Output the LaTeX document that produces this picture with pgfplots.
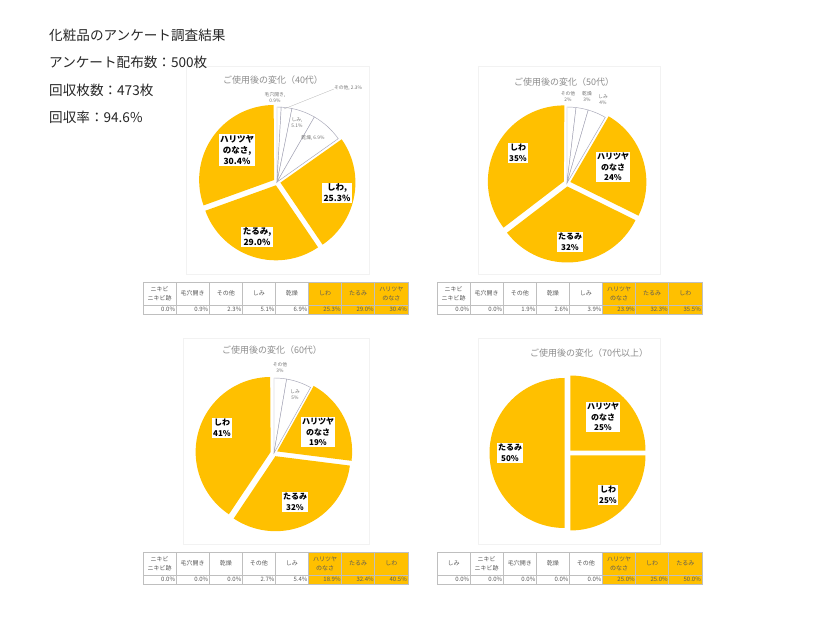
\documentclass[border=0pt]{standalone}
\usepackage{fontspec}
\setmainfont{Noto Sans CJK JP}
\usepackage{pgfplots}
\usepackage{pgfplotstable}
\pgfplotsset{compat=1.18}
\definecolor{pieyellow}{HTML}{FFC000}
\definecolor{pieline}{RGB}{165,165,182}
\definecolor{titlegray}{HTML}{8C8C8C}
\definecolor{tabline}{HTML}{BFBFBF}
\definecolor{tabtext}{HTML}{595959}
\definecolor{headtext}{HTML}{262626}

% pie data (clockwise from 12 o'clock), kind 1 = highlighted
\pgfplotstableread{
val kind
0.0 0
0.9 0
2.3 0
5.1 0
6.9 0
25.3 1
29.0 1
30.4 1
}\pieA
\pgfplotstableread{
val kind
0.0 0
0.0 0
1.9 0
2.6 0
3.9 0
23.9 1
32.3 1
35.5 1
}\pieB
\pgfplotstableread{
val kind
0.0 0
0.0 0
0.0 0
2.7 0
5.4 0
18.9 1
32.4 1
40.5 1
}\pieC
\pgfplotstableread{
val kind
0.0 0
0.0 0
0.0 0
0.0 0
0.0 0
25.0 1
25.0 1
50.0 1
}\pieD

\newcommand\drawpie[2]{%
  \pgfplotstablegetrowsof{#1}%
  \pgfmathtruncatemacro\lastrow{\pgfplotsretval-1}%
  \def\cum{0}%
  \pgfplotsforeachungrouped \rr in {0,...,\lastrow}{%
    \pgfplotstablegetelem{\rr}{val}\of{#1}\let\vv\pgfplotsretval
    \pgfplotstablegetelem{\rr}{kind}\of{#1}\let\kk\pgfplotsretval
    \pgfmathsetmacro\sa{90-3.6*\cum}%
    \pgfmathsetmacro\ea{90-3.6*(\cum+\vv)}%
    \pgfmathsetmacro\ma{(\sa+\ea)/2}%
    \pgfmathsetmacro\cum{\cum+\vv}%
    \ifdim\vv pt>0pt
      \ifnum\kk=1
        \pgfmathsetmacro\dx{3.5*cos(\ma)}\pgfmathsetmacro\dy{3.5*sin(\ma)}%
        \edef\temp{\noexpand\fill[pieyellow] (axis cs:\dx,\dy) -- ++(\sa:#2pt) arc[start angle=\sa, end angle=\ea, radius=#2pt] -- cycle;}%
      \else
        \edef\temp{\noexpand\filldraw[fill=white, draw=pieline, line width=0.45pt] (axis cs:0,0) -- ++(\sa:#2pt) arc[start angle=\sa, end angle=\ea, radius=#2pt] -- cycle;}%
      \fi
      \temp
    \fi
  }%
}

\newcommand\drawtable[3]{%
  \foreach \hh/\tv/\yy [count=\cc from 0] in {#3}{%
    \pgfmathsetmacro\xl{#1+\cc*33.1}%
    \pgfmathsetmacro\yt{628-#2}%
    \ifnum\yy=1 \fill[pieyellow] (\xl,\yt) rectangle ++(33.1,-32.5);\fi
    \draw[tabline, line width=0.5pt] (\xl,\yt) rectangle ++(33.1,-23);
    \draw[tabline, line width=0.5pt] (\xl,{\yt-23}) rectangle ++(33.1,-9.5);
    \node[align=center, text=tabtext, font=\fontsize{6}{9}\selectfont, inner sep=0pt] at ({\xl+16.55},{\yt-11.5}) {\hh};
    \node[anchor=east, text=tabtext, font=\fontsize{6}{7}\selectfont, inner sep=0pt] at ({\xl+32.3},{\yt-27.8}) {\tv};
  }%
}

\begin{document}
\begin{tikzpicture}[x=1pt,y=1pt,
  ylab/.style={fill=white, inner sep=1.3pt, align=center, text=black, font=\bfseries\fontsize{8}{10.5}\selectfont},
  ylabA/.style={ylab, font=\bfseries\fontsize{8.5}{11}\selectfont},
  slab/.style={align=center, text=black!55, inner sep=0.5pt, font=\fontsize{4.8}{6}\selectfont},
  ttl/.style={text=titlegray, font=\fontsize{9}{10}\selectfont, inner sep=0pt}]
\fill[white] (0,0) rectangle (837,628);
\path[use as bounding box] (0,0) rectangle (837,628);

% faint chart frames
\draw[black!5, line width=0.6pt] (186,562) rectangle (369,354);
\draw[black!5, line width=0.6pt] (478,562) rectangle (660,354);
\draw[black!5, line width=0.6pt] (183,290) rectangle (369,84);
\draw[black!5, line width=0.6pt] (478,290) rectangle (660,84);

% header text
\begin{scope}[every node/.style={anchor=west, text=headtext, inner sep=0pt, font=\fontsize{13.6}{16}\selectfont}]
\node at (49,593) {化粧品のアンケート調査結果};
\node at (49,566) {アンケート配布数：500枚};
\node at (49,538) {回収枚数：473枚};
\node at (49,511) {回収率：94.6\%};
\end{scope}

% titles
\node[ttl] at (273,548) {ご使用後の変化（40代）};
\node[ttl] at (564,546) {ご使用後の変化（50代）};
\node[ttl] at (272,278) {ご使用後の変化（60代）};
\node[ttl] at (589,275) {ご使用後の変化（70代以上）};

% ---- 40代
\begin{axis}[at={(277pt,446pt)}, anchor=center, hide axis, x=1pt, y=1pt,
  xmin=-95, xmax=95, ymin=-95, ymax=95, clip=false]
\addplot[draw=none, forget plot] coordinates {(0,0)};
\drawpie{\pieA}{75}
\draw[black!30, line width=0.3pt] (axis cs:7,73) -- (axis cs:57,93);
\node[slab] at (axis cs:-2,84) {毛穴開き,\\0.9\%};
\node[slab] at (axis cs:71,94) {その他, 2.3\%};
\node[slab] at (axis cs:20,59) {しみ,\\5.1\%};
\node[slab] at (axis cs:36,44) {乾燥, 6.9\%};
\node[ylabA] at (axis cs:-40,32) {ハリツヤ\\のなさ,\\30.4\%};
\node[ylabA] at (axis cs:60,-11) {しわ,\\25.3\%};
\node[ylabA] at (axis cs:-20,-55) {たるみ,\\29.0\%};
\end{axis}

% ---- 50代
\begin{axis}[at={(567pt,445pt)}, anchor=center, hide axis, x=1pt, y=1pt,
  xmin=-95, xmax=95, ymin=-95, ymax=95, clip=false]
\addplot[draw=none, forget plot] coordinates {(0,0)};
\drawpie{\pieB}{76}
\node[slab] at (axis cs:1,86) {その他\\2\%};
\node[slab] at (axis cs:20,86) {乾燥\\3\%};
\node[slab] at (axis cs:36,83) {しみ\\4\%};
\node[ylab] at (axis cs:-49,30) {しわ\\35\%};
\node[ylab] at (axis cs:46,16) {ハリツヤ\\のなさ\\24\%};
\node[ylab] at (axis cs:3,-59) {たるみ\\32\%};
\end{axis}

% ---- 60代
\begin{axis}[at={(274pt,175pt)}, anchor=center, hide axis, x=1pt, y=1pt,
  xmin=-95, xmax=95, ymin=-95, ymax=95, clip=false]
\addplot[draw=none, forget plot] coordinates {(0,0)};
\drawpie{\pieC}{75}
\node[slab] at (axis cs:6,85) {その他\\3\%};
\node[slab] at (axis cs:21,58) {しみ\\5\%};
\node[ylab] at (axis cs:44,21) {ハリツヤ\\のなさ\\19\%};
\node[ylab] at (axis cs:21,-49) {たるみ\\32\%};
\node[ylab] at (axis cs:-52,25) {しわ\\41\%};
\end{axis}

% ---- 70代以上
\begin{axis}[at={(568pt,175pt)}, anchor=center, hide axis, x=1pt, y=1pt,
  xmin=-95, xmax=95, ymin=-95, ymax=95, clip=false]
\addplot[draw=none, forget plot] coordinates {(0,0)};
\drawpie{\pieD}{75}
\node[ylab] at (axis cs:35,36) {ハリツヤ\\のなさ\\25\%};
\node[ylab] at (axis cs:40,-42) {しわ\\25\%};
\node[ylab] at (axis cs:-58,0) {たるみ\\50\%};
\end{axis}

% tables
\drawtable{143}{282}{{ニキビ\\ニキビ跡}/0.0\%/0,毛穴開き/0.9\%/0,その他/2.3\%/0,しみ/5.1\%/0,乾燥/6.9\%/0,しわ/25.3\%/1,たるみ/29.0\%/1,{ハリツヤ\\のなさ}/30.4\%/1}
\drawtable{437}{282}{{ニキビ\\ニキビ跡}/0.0\%/0,毛穴開き/0.0\%/0,その他/1.9\%/0,乾燥/2.6\%/0,しみ/3.9\%/0,{ハリツヤ\\のなさ}/23.9\%/1,たるみ/32.3\%/1,しわ/35.5\%/1}
\drawtable{143}{552}{{ニキビ\\ニキビ跡}/0.0\%/0,毛穴開き/0.0\%/0,乾燥/0.0\%/0,その他/2.7\%/0,しみ/5.4\%/0,{ハリツヤ\\のなさ}/18.9\%/1,たるみ/32.4\%/1,しわ/40.5\%/1}
\drawtable{437}{552}{しみ/0.0\%/0,{ニキビ\\ニキビ跡}/0.0\%/0,毛穴開き/0.0\%/0,乾燥/0.0\%/0,その他/0.0\%/0,{ハリツヤ\\のなさ}/25.0\%/1,しわ/25.0\%/1,たるみ/50.0\%/1}
\end{tikzpicture}
\end{document}
